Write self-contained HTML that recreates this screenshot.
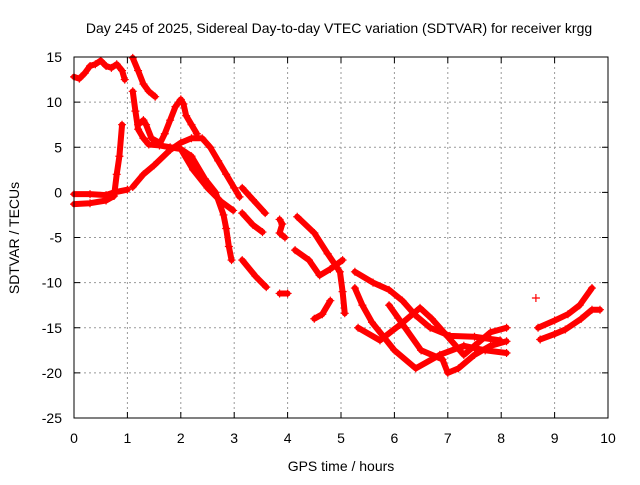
<!DOCTYPE html>
<html><head><meta charset="utf-8"><style>
body{margin:0;background:#fff}
svg text{font-family:"Liberation Sans",sans-serif;font-size:14px;fill:#000}
</style></head><body>
<svg id="c" width="640" height="480">
<rect width="640" height="480" fill="#fff"/>
<text x="339" y="33" text-anchor="middle">Day 245 of 2025, Sidereal Day-to-day VTEC variation (SDTVAR) for receiver krgg</text>
<text x="341" y="471" text-anchor="middle">GPS time / hours</text>
<text transform="translate(19,238) rotate(-90)" text-anchor="middle">SDTVAR / TECUs</text>
<g id="grid"></g><g id="marks"></g>
<rect x="74" y="57" width="534" height="361" fill="none" stroke="#000" stroke-width="1"/>
</svg>
<script>
const xTicks=[0,1,2,3,4,5,6,7,8,9,10];
const yTicks=[15,10,5,0,-5,-10,-15,-20,-25];
const track1=[[0,12.8],[0.1,12.6],[0.2,13.2],[0.3,14],[0.4,14.2],[0.5,14.6],[0.6,14],[0.7,13.8],[0.8,14.2],[0.9,13.5],[0.95,12.5]];
const track2=[[0,-0.2],[0.3,-0.2],[0.6,-0.3],[0.75,0],[1.0,0.3]];
const track3=[[0,-1.3],[0.3,-1.2],[0.6,-0.9],[0.75,-0.4],[0.8,2],[0.85,4],[0.9,7.5]];
const track4=[[1.1,14.9],[1.2,13.5],[1.3,12],[1.4,11.2],[1.52,10.6]];
const track5=[[1.1,11.2],[1.15,9],[1.2,7],[1.3,6],[1.4,5.3],[1.6,5.2],[1.8,5],[2.0,4.8],[2.23,2.5],[2.5,0.5],[2.75,-1],[2.98,-2]];
const track6=[[1.1,0.6],[1.3,2],[1.5,3],[1.8,4.7],[2.0,5.5],[2.2,6],[2.4,6],[2.55,5],[2.7,3.5],[2.85,2],[3.0,0.5],[3.1,-0.5]];
const track7=[[1.6,5.3],[1.7,6.5],[1.8,8],[1.9,9.5],[2.0,10.3],[2.05,9.8],[2.1,8.5],[2.2,7.5],[2.3,6.5]];
const track8=[[1.95,5],[2.2,4],[2.45,1.5],[2.65,0],[2.8,-2.5],[2.85,-4],[2.9,-6],[2.95,-7.5]];
const track9=[[1.2,7.5],[1.3,8],[1.35,7.5],[1.45,6],[1.6,5.5]];
const track10=[[3.15,0.5],[3.35,-0.8],[3.58,-2.3]];
const track11=[[3.15,-2.3],[3.35,-3.6],[3.53,-4.4]];
const track12=[[3.15,-7.5],[3.4,-9.3],[3.6,-10.5]];
const track13=[[3.85,-3],[3.9,-3.5],[3.85,-4.5],[3.95,-5]];
const track14=[[3.85,-11.2],[4.0,-11.2]];
const track15=[[4.18,-2.7],[4.5,-4.5],[4.75,-6.8],[4.98,-8.8],[5.03,-11],[5.07,-13.4]];
const track16=[[4.14,-6.4],[4.4,-7.5],[4.6,-9.2],[4.8,-8.5],[5.03,-7.5]];
const track17=[[4.5,-14],[4.65,-13.5],[4.8,-12]];
const track18=[[5.26,-8.8],[5.6,-10],[5.9,-10.8],[6.15,-12],[6.39,-13.6],[6.67,-15],[7.04,-15.9],[7.5,-16],[7.98,-16.4]];
const track19=[[5.26,-10.6],[5.4,-12.5],[5.58,-14.4],[6.0,-17.5],[6.4,-19.5],[6.85,-18],[7.3,-17],[7.7,-17.5],[8.1,-17.8]];
const track20=[[5.32,-15],[5.73,-16.4],[6.1,-14.7],[6.48,-12.8],[6.7,-14],[7.0,-16],[7.3,-18],[7.5,-17],[7.8,-15.5],[8.1,-15]];
const track21=[[5.9,-12.5],[6.2,-15],[6.5,-17.5],[6.9,-18.5],[7.0,-20],[7.2,-19.5],[7.5,-18],[7.8,-17],[8.1,-16.5]];
const track22=[[8.65,-11.7]];
const track23=[[8.69,-15],[9.0,-14.2],[9.25,-13.5],[9.47,-12.5],[9.7,-10.6]];
const track24=[[8.73,-16.3],[9.0,-15.7],[9.2,-15.2],[9.5,-14],[9.7,-13],[9.85,-13]];
const tracks=[track1,track2,track3,track4,track5,track6,track7,track8,track9,track10,track11,track12,track13,track14,track15,track16,track17,track18,track19,track20,track21,track22,track23,track24];
const NS='http://www.w3.org/2000/svg';
const X=v=>74+v*53.4, Y=v=>57+(15-v)*9.025;
const g=document.getElementById('grid'), m=document.getElementById('marks');
function mk(t,a,p){const e=document.createElementNS(NS,t);for(const k in a)e.setAttribute(k,a[k]);p.appendChild(e);return e;}
xTicks.forEach(t=>{
 if(t>0&&t<10){const l=mk('line',{x1:X(t),x2:X(t),y1:57,y2:418,stroke:'#999','stroke-dasharray':'2,3'},g);
 
 }
 mk('line',{x1:X(t),x2:X(t),y1:418,y2:412,stroke:'#000'},g);
 mk('line',{x1:X(t),x2:X(t),y1:57,y2:63,stroke:'#000'},g);
 const tx=mk('text',{x:X(t),y:443,'text-anchor':'middle'},g);tx.textContent=t;
 
 
});
yTicks.forEach(t=>{
 if(t<15&&t>-25){const l=mk('line',{x1:74,x2:608,y1:Y(t),y2:Y(t),stroke:'#999','stroke-dasharray':'2,3'},g);
 
 }
 mk('line',{x1:74,x2:80,y1:Y(t),y2:Y(t),stroke:'#000'},g);
 mk('line',{x1:608,x2:602,y1:Y(t),y2:Y(t),stroke:'#000'},g);
 const tx=mk('text',{x:62,y:Y(t)+5,'text-anchor':'end'},g);tx.textContent=t;
 
 
});
tracks.forEach(tr=>{
 const pl=mk('polyline',{points:tr.map(p=>X(p[0])+','+Y(p[1])).join(' '),fill:'none',stroke:'#f00','stroke-width':6,'stroke-linejoin':'round','stroke-linecap':'round'},m);
 
 
 tr.forEach(p=>{
  const x=X(p[0]),y=Y(p[1]);
  const pt=mk('path',{d:`M${x-4},${y}h8M${x},${y-4}v8`,stroke:'#f00','stroke-width':1.2},m);
  
  
 });
});
</script>
</body></html>
